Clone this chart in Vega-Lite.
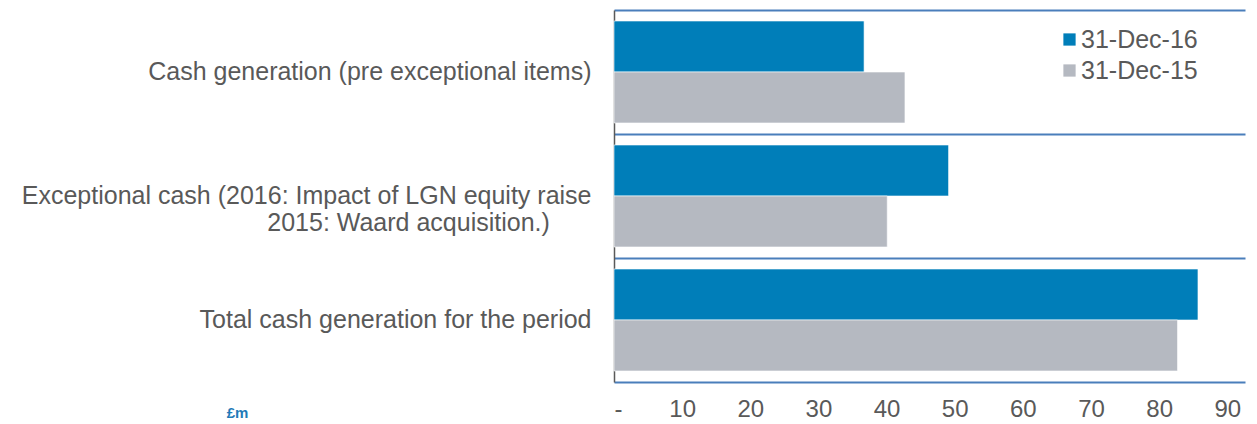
{
  "$schema": "https://vega.github.io/schema/vega-lite/v6.json",
  "autosize": {"type": "none"},
  "width": 631,
  "height": 372,
  "padding": {"left": 614, "top": 10, "right": 12, "bottom": 42},
  "background": "white",
  "config": {
    "view": {"stroke": null},
    "font": "Liberation Sans",
    "axis": {"labelFont": "Liberation Sans", "labelColor": "#595959"},
    "legend": {"labelFont": "Liberation Sans", "labelColor": "#595959"}
  },
  "data": {
    "values": [
      {"category": "Cash generation (pre exceptional items)", "period": "31-Dec-16", "value": 36.7},
      {"category": "Cash generation (pre exceptional items)", "period": "31-Dec-15", "value": 42.7},
      {"category": "Exceptional cash (2016: Impact of LGN equity raise|2015: Waard acquisition.)\u00a0\u00a0\u00a0\u00a0\u00a0\u00a0\u200b", "period": "31-Dec-16", "value": 49.1},
      {"category": "Exceptional cash (2016: Impact of LGN equity raise|2015: Waard acquisition.)\u00a0\u00a0\u00a0\u00a0\u00a0\u00a0\u200b", "period": "31-Dec-15", "value": 40.1},
      {"category": "Total cash generation for the period", "period": "31-Dec-16", "value": 85.7},
      {"category": "Total cash generation for the period", "period": "31-Dec-15", "value": 82.7}
    ]
  },
  "mark": {"type": "bar", "stroke": "#ffffff", "strokeWidth": 0.6},
  "encoding": {
    "y": {
      "field": "category",
      "type": "nominal",
      "sort": null,
      "scale": {"paddingInner": 0, "paddingOuter": 0},
      "axis": {
        "title": null,
        "ticks": false,
        "labelExpr": "split(datum.label, '|')",
        "labelFontSize": 25,
        "labelLineHeight": 27,
        "labelPadding": 23,
        "labelLimit": 700,
        "domainColor": "#595959",
        "domainWidth": 1.5,
        "grid": true,
        "gridColor": "#4A7EBB",
        "gridWidth": 2,
        "bandPosition": 0
      }
    },
    "yOffset": {
      "field": "period",
      "type": "nominal",
      "sort": ["31-Dec-16", "31-Dec-15"],
      "scale": {"paddingInner": 0, "paddingOuter": 0.216}
    },
    "x": {
      "field": "value",
      "type": "quantitative",
      "scale": {"domain": [0, 92.6], "nice": false, "zero": true},
      "axis": {
        "values": [0, 10, 20, 30, 40, 50, 60, 70, 80, 90],
        "labelExpr": "datum.value == 0 ? '-' : datum.label",
        "labelFontSize": 24,
        "labelPadding": 15,
        "ticks": false,
        "grid": false,
        "domainColor": "#4A7EBB",
        "domainWidth": 2,
        "title": "£m",
        "titleColor": "#1F7BB8",
        "titleFontSize": 15,
        "titleFontWeight": "bold",
        "titleFont": "Liberation Sans",
        "titleX": -377,
        "titleY": 30,
        "titleBaseline": "middle",
        "titleAlign": "center"
      }
    },
    "color": {
      "field": "period",
      "type": "nominal",
      "sort": ["31-Dec-16", "31-Dec-15"],
      "scale": {"domain": ["31-Dec-16", "31-Dec-15"], "range": ["#007EB9", "#B5B9C1"]},
      "legend": {
        "title": null,
        "orient": "none",
        "legendX": 443,
        "legendY": 17,
        "symbolType": "square",
        "symbolSize": 150,
        "symbolStrokeWidth": 0,
        "labelFontSize": 25,
        "labelOffset": -1,
        "rowPadding": 5
      }
    }
  }
}
